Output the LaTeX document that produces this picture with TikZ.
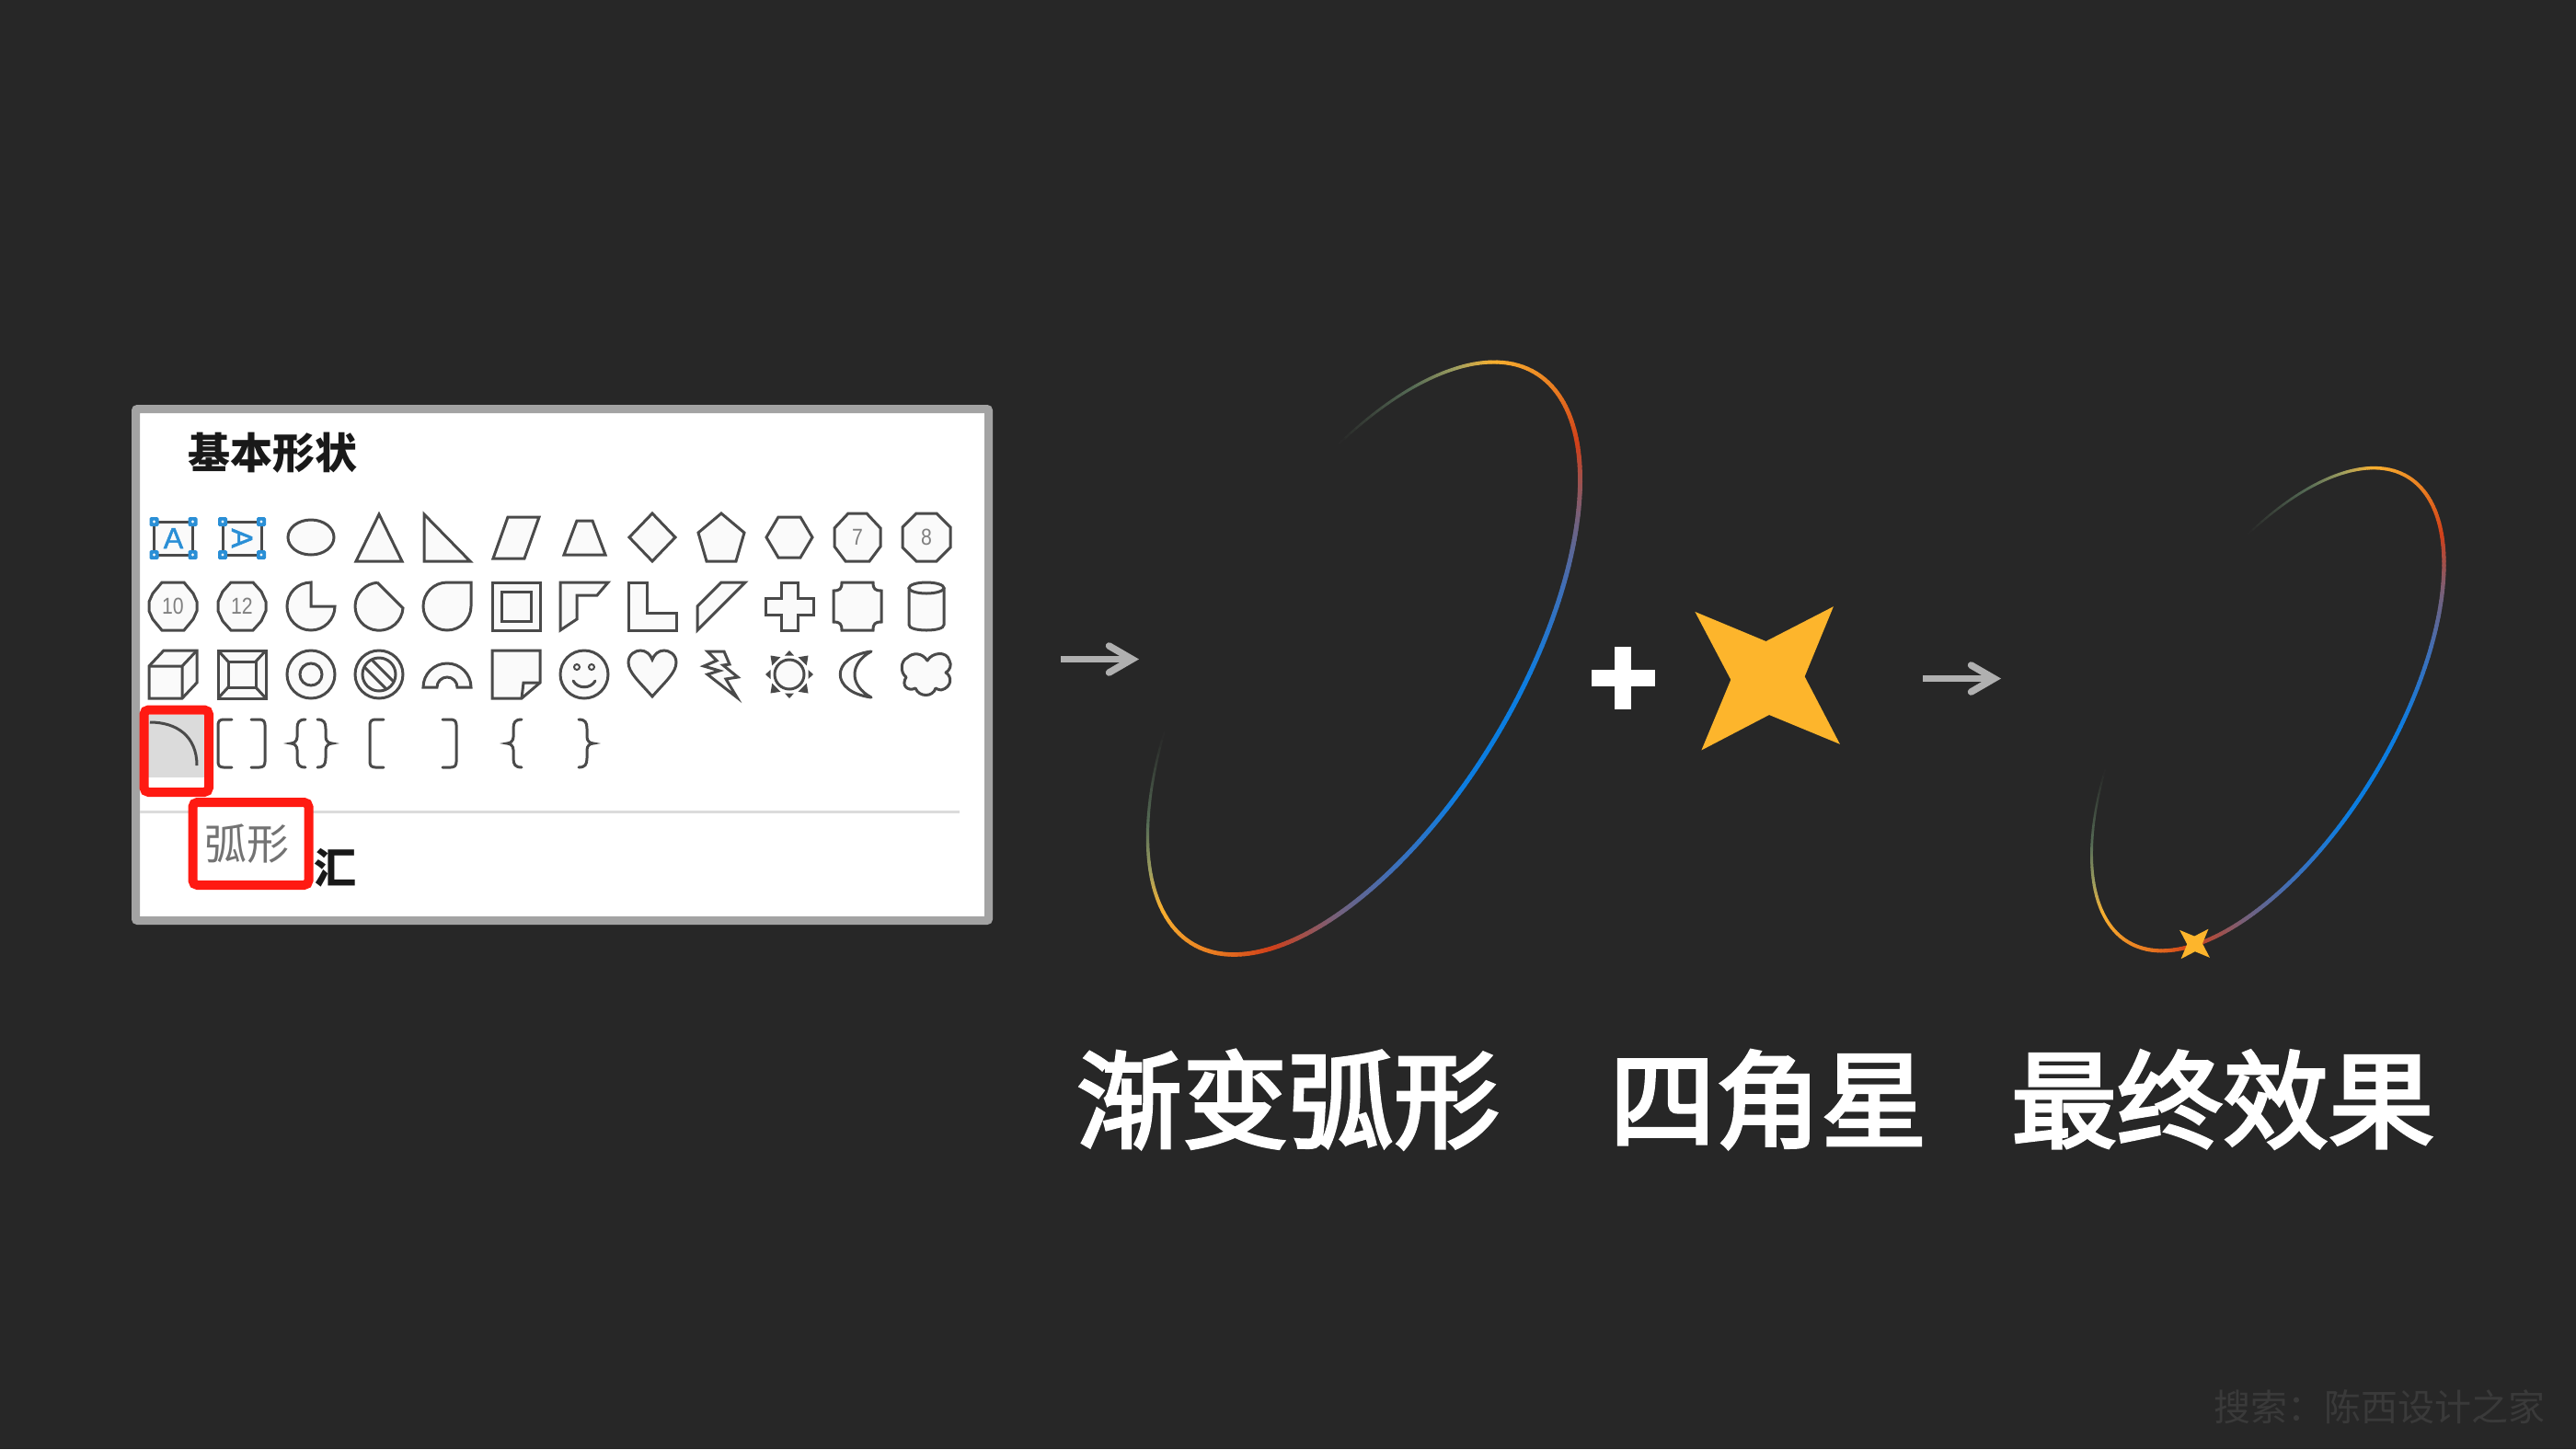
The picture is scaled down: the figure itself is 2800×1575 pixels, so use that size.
\documentclass[tikz,border=0pt]{standalone}
\usepackage{fontspec}
\usetikzlibrary{arrows.meta}
\newfontfamily\cjk{Noto Sans CJK SC}
\newfontfamily\cjkm[FakeBold=3]{Noto Sans CJK SC}
\newfontfamily\lib{Liberation Sans}
\newfontfamily\libm[FakeBold=1.5]{Liberation Sans}
\definecolor{bgc}{HTML}{272727}
\definecolor{ln}{HTML}{4A4A4A}
\definecolor{pf}{HTML}{FAFAFA}
\definecolor{hblue}{HTML}{2A8FD6}
\definecolor{redb}{HTML}{FF1A12}
\definecolor{amber}{HTML}{FDB52C}
\definecolor{wmark}{HTML}{3A3A3A}
\definecolor{arrowc}{HTML}{B0B0B0}
\definecolor{ga}{HTML}{0A7DE0}
\definecolor{gb}{HTML}{0E7DE0}
\definecolor{gc}{HTML}{3F6FB8}
\definecolor{gd}{HTML}{76607A}
\definecolor{ge}{HTML}{D0401A}
\definecolor{gf}{HTML}{E87A20}
\definecolor{gg}{HTML}{F8B030}
\definecolor{gh}{HTML}{A0A060}
\definecolor{gi}{HTML}{566C56}
\tikzset{
  shp/.style={draw=ln,line width=3pt,fill=pf,line join=miter},
  lnonly/.style={draw=ln,line width=3pt,line cap=round},
  num/.style={inner sep=0pt,text=black!50,xscale=.85,font=\lib\fontsize{25}{25}\selectfont},
  handle/.style={fill=hblue,draw=none,rounded corners=1.5pt},
  redbox/.style={draw=redb,line width=10pt,rounded corners=5pt},
  garrow/.style={draw=arrowc,line width=7.5pt,-{Straight Barb[length=25pt,width=29pt,line cap=round]}},
  title/.style={inner sep=0pt,text=white,font=\cjkm\fontsize{115}{115}\selectfont},
  blueA/.style={inner sep=0pt,text=hblue,font=\libm\fontsize{32}{32}\selectfont},
}
\newcommand{\cellat}[3]{\begin{scope}[shift={(#1,#2)}]#3\end{scope}}
\newcommand{\gradarc}[5]{%
\foreach \sa/\sb/\ca/\cb in {0/.08/ga/gb,.08/.2/gb/gc,.2/.3/gc/gd,.3/.42/gd/ge,.42/.54/ge/gf,.54/.715/gf/gg,.715/.79/gg/gh,.79/.87/gh/gi,.87/1/gi/bgc}{%
 \foreach \k in {1,...,14}{%
  \foreach \sg in {-1,1}{%
   \pgfmathsetmacro\ta{-90.5+\sg*149.5*(\sa+(\sb-\sa)*(\k-1)/14)}%
   \pgfmathsetmacro\tb{-90.5+\sg*149.5*(\sa+(\sb-\sa)*\k/14)}%
   \pgfmathsetmacro\pc{(\k-.5)/14*100}%
   \pgfmathsetmacro\lw{#5*(1-.55*(\sa+(\sb-\sa)*\k/14)^3)}%
   \draw[line width=\lw pt,draw={\cb!\pc!\ca},line cap=round]
    ({#1+#3*cos(\ta)*cos(59)-#4*sin(\ta)*sin(59)},{#2-#3*cos(\ta)*sin(59)-#4*sin(\ta)*cos(59)}) --
    ({#1+#3*cos(\tb)*cos(59)-#4*sin(\tb)*sin(59)},{#2-#3*cos(\tb)*sin(59)-#4*sin(\tb)*cos(59)});
  }}}}
\newcommand{\starpath}{\fill[amber] (-78.6,-72.7)--(-1.5,-40.6)--(71.9,-78.4)--(40.6,-2.3)--(78.9,71.2)--(2,39.4)--(-71.6,77.8)--(-39.7,1.2)--cycle;}
\newcommand{\brk}{\draw[lnonly] (15,-26) -- (6,-26) .. controls (2,-26) and (0,-24) .. (0,-20) -- (0,20) .. controls (0,24) and (2,26) .. (6,26) -- (15,26);}
\newcommand{\brc}{\draw[lnonly] (16,-26) .. controls (9,-26) and (7,-23) .. (7,-16) -- (7,-7) .. controls (7,-3) and (4,0) .. (0,0) .. controls (4,0) and (7,3) .. (7,7) -- (7,16) .. controls (7,23) and (9,26) .. (16,26);}
\newcommand{\handles}{\draw[draw=ln,line width=3pt,fill=pf] (-21,-17) rectangle (21,19);
 \foreach \hx/\hy in {-21/-17,21/-17,-21/19,21/19}{\fill[handle] (\hx-5,\hy-5) rectangle (\hx+5,\hy+5); \fill[pf] (\hx,\hy) circle (1.6);}}
\begin{document}
\begin{tikzpicture}[x=1pt,y=-1pt]
\useasboundingbox (0,0) rectangle (2800,1575);
\fill[bgc] (0,0) rectangle (2800,1575);
% panel
\draw[draw=black!36,fill=white,line width=9pt,rounded corners=2pt] (147.5,444.5) rectangle (1074.5,1000.5);
\node[inner sep=0pt,font=\cjk\bfseries\fontsize{46}{46}\selectfont,text=black!90] (ttlA) at (296,492) {基本形状};
% row 1
\cellat{188.5}{584}{\handles
 \node[blueA] (txtA) at (0,1) {A};}
\cellat{263}{584}{\handles
 \node[blueA,rotate=-90] (txtB) at (0,1) {A};}
\cellat{338}{584}{\draw[shp] (0,0) ellipse [x radius=25,y radius=19];}
\cellat{412}{584}{\draw[shp] (0,-25)--(25,26)--(-25,26)--cycle;}
\cellat{486}{584}{\draw[shp] (-25,-25)--(25,26)--(-25,26)--cycle;}
\cellat{561}{584}{\draw[shp] (-9,-22)--(25,-22)--(9,23)--(-25,23)--cycle;}
\cellat{635}{584}{\draw[shp] (-8,-18)--(9,-18)--(23,19)--(-22,19)--cycle;}
\cellat{709}{584}{\draw[shp] (0,-26)--(25,0)--(0,26)--(-25,0)--cycle;}
\cellat{784}{584}{\draw[shp] (0,-26)--(25,-5)--(16,26)--(-16,26)--(-25,-5)--cycle;}
\cellat{858}{584}{\draw[shp] (-12,-22)--(12,-22)--(25,0)--(12,22)--(-12,22)--(-25,0)--cycle;}
\cellat{932}{584}{\draw[shp] (-10,-26)--(10,-26)--(25,-10)--(25,10)--(13,26)--(-13,26)--(-25,10)--(-25,-10)--cycle;
 \node[num] (n7) at (0,0) {7};}
\cellat{1007}{584}{\draw[shp] (-11,-26)--(11,-26)--(26,-11)--(26,11)--(11,26)--(-11,26)--(-26,11)--(-26,-11)--cycle;
 \node[num] (n8) at (0,0) {8};}
% row 2
\cellat{188}{659}{\draw[shp] (-12,-26)--(12,-26)--(22,-14)--(26,-5)--(26,5)--(22,14)--(12,26)--(-12,26)--(-22,14)--(-26,5)--(-26,-5)--(-22,-14)--cycle;
 \node[num] (n10) at (0,0) {10};}
\cellat{263}{659}{\draw[shp] (-12,-26)--(12,-26)--(21,-16)--(26,-5)--(26,5)--(21,16)--(12,26)--(-12,26)--(-21,16)--(-26,5)--(-26,-5)--(-21,-16)--cycle;
 \node[num] (n12) at (0,0) {12};}
\cellat{338}{659}{\draw[shp] (0,-26)--(0,0)--(26,0) arc (0:270:26)--cycle;}
\cellat{412}{659}{\draw[shp] (-2,-26)--(26,2) arc (4:266:26)--cycle;}
\cellat{486}{659}{\draw[shp] (26,-26)--(26,0) arc (0:270:26)--cycle;}
\cellat{561}{659}{\draw[shp] (-26,-26) rectangle (26,26); \draw[shp] (-16,-16) rectangle (16,16);}
\cellat{635}{659}{\draw[shp] (-26,-26)--(26,-26)--(14,-12)--(-8,-12)--(-8,14)--(-26,26)--cycle;}
\cellat{709}{659}{\draw[shp] (-26,-26)--(-6,-26)--(-6,7)--(26,7)--(26,26)--(-26,26)--cycle;}
\cellat{784}{659}{\draw[shp] (-26,0)--(0,-26)--(26,-26)--(-26,26)--cycle;}
\cellat{858}{659}{\draw[shp] (-9,-26)--(9,-26)--(9,-9)--(26,-9)--(26,9)--(9,9)--(9,26)--(-9,26)--(-9,9)--(-26,9)--(-26,-9)--(-9,-9)--cycle;}
\cellat{932}{659}{\draw[shp] (-17,-26)--(17,-26) .. controls (17,-19) and (19,-17) .. (26,-17)--(26,17) .. controls (19,17) and (17,19) .. (17,26)--(-17,26) .. controls (-17,19) and (-19,17) .. (-26,17)--(-26,-17) .. controls (-19,-17) and (-17,-19) .. (-17,-26)--cycle;}
\cellat{1007}{659}{\draw[shp] (-19,-20)--(-19,20) .. controls (-19,24) and (-10,26) .. (0,26) .. controls (10,26) and (19,24) .. (19,20)--(19,-20);
 \draw[shp] (0,-20) ellipse [x radius=19,y radius=6];}
% row 3
\cellat{188}{733}{\draw[shp] (-26,-9)--(-10,-26)--(26,-26)--(26,9)--(10,26)--(-26,26)--cycle;
 \draw[shp,fill=none] (-26,-9)--(10,-9)--(26,-26) (10,-9)--(10,26);}
\cellat{263}{733}{\draw[shp] (-26,-26) rectangle (26,26); \draw[shp] (-15,-14) rectangle (15,14);
 \draw[shp,fill=none] (-26,-26)--(-15,-14) (26,-26)--(15,-14) (26,26)--(15,14) (-26,26)--(-15,14);}
\cellat{338}{733}{\draw[shp] (0,0) circle (26); \draw[shp] (0,0) circle (12);}
\cellat{412}{733}{\draw[shp] (0,0) circle (26); \draw[shp] (0,0) circle (18);
 \draw[shp,fill=none] (16.08,8.08)--(-8.08,-16.08) (8.08,16.08)--(-16.08,-8.08);}
\cellat{486}{733}{\draw[shp] (-26,14) arc (180:360:26)--(11,14) arc (360:180:11)--cycle;}
\cellat{561}{733}{\draw[shp] (-26,-26)--(26,-26)--(26,9)--(6,26)--(-26,26)--cycle;
 \draw[shp,fill=none] (26,9)--(8,9)--(6,26);}
\cellat{635}{733}{\draw[shp] (0,0) circle (26);
 \draw[draw=ln,line width=2pt] (-8,-8) circle (3) (8,-8) circle (3);
 \draw[lnonly] (-12,7) .. controls (-7,16) and (7,16) .. (12,7);}
\cellat{709}{733}{\draw[shp] (0,24) .. controls (-14,8) and (-26,-2) .. (-26,-13) .. controls (-26,-22) and (-18,-26) .. (-13,-26) .. controls (-7,-26) and (-2,-22) .. (0,-16) .. controls (2,-22) and (7,-26) .. (13,-26) .. controls (18,-26) and (26,-22) .. (26,-13) .. controls (26,-2) and (14,8) .. (0,24)--cycle;}
\cellat{784}{733}{\draw[shp] (-15,-25)--(3,-25)--(9,-11)--(2,-10)--(18,3)--(5,5)--(17,25)--(-15,0)--(-2,-4)--(-19,-9)--(-5,-15)--cycle;}
\cellat{858}{733}{\draw[shp] (0,0) circle (16);
 \foreach \ang in {0,90,180,270}{\fill[ln,rotate=\ang] (26,0)--(20.5,-5)--(20.5,5)--cycle;}
 \foreach \ang in {45,135,225,315}{\fill[ln,rotate=\ang] (29,0)--(20,-6.5)--(20,6.5)--cycle;}}
\cellat{932}{733}{\draw[shp,line join=round] (15,-25) .. controls (-30,-19) and (-30,19) .. (15,25) .. controls (-9,12) and (-9,-12) .. (15,-25)--cycle;}
\cellat{1007}{733}{\draw[shp,line join=round] (1,-15) .. controls (6,-24) and (22,-26) .. (25,-15) .. controls (28,-10) and (25,-4) .. (21,-2) .. controls (28,2) and (28,14) .. (16,17) .. controls (14,17) and (12,16) .. (10,15) .. controls (7,25) and (-8,25) .. (-12,15) .. controls (-20,19) and (-28,12) .. (-22,3) .. controls (-29,-2) and (-28,-15) .. (-21,-18) .. controls (-15,-24) and (-5,-24) .. (1,-15)--cycle;}
% row 4
\fill[black!14] (152,777) rectangle (222,845);
\draw[draw=ln,line width=3pt] (163,785) .. controls (192,785) and (214,800) .. (214,832);
\cellat{237}{808}{\brk}
\begin{scope}[shift={(288,808)},xscale=-1]\brk\end{scope}
\cellat{316}{808}{\brc}
\begin{scope}[shift={(361,808)},xscale=-1]\brc\end{scope}
\cellat{402}{808}{\brk}
\begin{scope}[shift={(496,808)},xscale=-1]\brk\end{scope}
\cellat{551}{808}{\brc}
\begin{scope}[shift={(645,808)},xscale=-1]\brc\end{scope}
% lower part of panel
\draw[draw=black!14,line width=3pt] (152,882)--(1043,882);
\node[inner sep=0pt,font=\cjk\bfseries\fontsize{46}{46}\selectfont,text=black!90] (ttlB) at (364,943) {汇};
\draw[redbox] (156.5,771.5) rectangle (227,861);
\draw[redbox,fill=white] (209.5,872) rectangle (335.5,962);
\node[inner sep=0pt,text=black!55,font=\cjk\fontsize{46}{46}\selectfont] (lblArc) at (268,917) {弧形};
% arrows
\coordinate (a1s) at (1153,716.5);
\coordinate (a1e) at (1238,716.5);
\coordinate (a2s) at (2090,737.5);
\coordinate (a2e) at (2175,737.5);
\draw[garrow] (a1s)--(a1e);
\draw[garrow] (a2s)--(a2e);
% arcs
\gradarc{1482.5}{715.5}{362}{167}{5}
\gradarc{2465}{771}{295}{136}{4.4}
% plus and stars
\fill[white] (1755,703) rectangle (1773,771);
\fill[white] (1729.5,728) rectangle (1798.5,746);
\begin{scope}[shift={(1921,737.6)}]\starpath\end{scope}
\begin{scope}[shift={(2385.5,1026)},scale=.208]\starpath\end{scope}
% titles
\node[title] (t1) at (1400,1195) {渐变弧形};
\node[title] (t2) at (1922,1195) {四角星};
\node[title] (t3) at (2416,1195) {最终效果};
\node[inner sep=0pt,text=wmark,font=\cjk\fontsize{40}{40}\selectfont] (wm) at (2586,1529) {搜索：陈西设计之家};
\end{tikzpicture}
\end{document}
